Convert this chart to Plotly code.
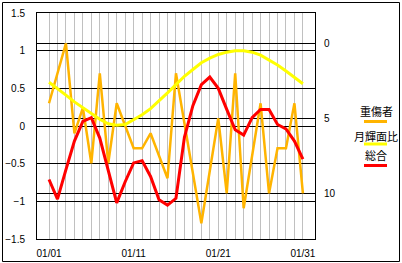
import plotly.graph_objects as go

# ---- data ----
dates = [f"01/{d:02d}" for d in range(1, 32)]
tick_labels = ["01/01", "01/11", "01/21", "01/31"]

serious_injuries = [4, 2, 0, 6, 4.3, 8, 2, 8, 4, 5.5, 7, 7, 6, 7.5, 9, 2, 5.3, 8.7,
                    12, 8.5, 5, 10, 2, 11, 7.5, 4, 10, 7, 7, 4, 10]
moon_ratio = [0.58, 0.50, 0.41, 0.32, 0.24, 0.16, 0.09, 0.03, 0.01, 0.02, 0.08, 0.15,
              0.23, 0.33, 0.44, 0.55, 0.66, 0.75, 0.84, 0.90, 0.95, 0.98, 1.0, 1.0,
              0.98, 0.94, 0.88, 0.81, 0.73, 0.65, 0.56]
total = [-0.71, -0.97, -0.58, -0.20, 0.06, 0.11, -0.16, -0.58, -1.02, -0.74, -0.49,
         -0.46, -0.67, -0.98, -1.05, -0.96, -0.15, 0.27, 0.55, 0.65, 0.50, 0.22, -0.05,
         -0.12, 0.11, 0.22, 0.22, 0.02, -0.04, -0.20, -0.44]

names = ["重傷者", "月輝面比", "総合"]
colors = ["#FFB400", "#FFFF00", "#FF0000"]

# ---- geometry (pixels) ----
W, H = 402, 263
L, R, T, B = 37, 315, 13, 239
pw, ph = R - L, B - T


def px_x(x):
    return (x - L) / pw


def px_y(y):
    return (B - y) / ph


fig = go.Figure()
fig.add_trace(go.Scatter(x=dates, y=serious_injuries, yaxis="y", mode="lines",
                         line=dict(color=colors[0], width=2.5), name=names[0]))
fig.add_trace(go.Scatter(x=dates, y=moon_ratio, yaxis="y2", mode="lines",
                         line=dict(color=colors[1], width=3), name=names[1]))
fig.add_trace(go.Scatter(x=dates, y=total, yaxis="y2", mode="lines",
                         line=dict(color=colors[2], width=3), name=names[2]))

font = dict(family="Liberation Sans, Arial, sans-serif", size=10, color="black")

shapes = [dict(type="rect", xref="paper", yref="paper",
               x0=px_x(2.5), x1=px_x(399.5), y0=px_y(261.5), y1=px_y(2.5),
               line=dict(color="black", width=1), layer="below")]
annotations = []
leg_text_y = [111, 135.5, 155]
leg_line_y = [121.5, 144, 165.5]
for nm, c, ty, ly in zip(names, colors, leg_text_y, leg_line_y):
    annotations.append(dict(xref="paper", yref="paper", x=px_x(376), y=px_y(ty),
                            text=nm, showarrow=False, xanchor="center", yanchor="middle",
                            font=dict(family="Noto Sans CJK JP", size=11, color="black")))
    shapes.append(dict(type="line", xref="paper", yref="paper",
                       x0=px_x(364), x1=px_x(387), y0=px_y(ly), y1=px_y(ly),
                       line=dict(color=c, width=3)))

fig.update_layout(
    width=W, height=H,
    margin=dict(l=L, r=W - R, t=T, b=H - B, pad=0, autoexpand=False),
    paper_bgcolor="white", plot_bgcolor="white",
    showlegend=False,
    font=font,
    xaxis=dict(type="category", categoryorder="array", categoryarray=dates,
               range=[-1.42, 31.43], automargin=False,
               tickvals=dates,
               ticktext=[d if d in tick_labels else "" for d in dates],
               showgrid=True, gridcolor="#C0C0C0", gridwidth=1,
               showline=True, linecolor="black", linewidth=1, mirror=True,
               ticks="", zeroline=False, ticklabelstandoff=5, tickfont=font),
    yaxis=dict(side="right", range=[13.05, -2.02], tickvals=[0, 5, 10],
               automargin=False,
               showgrid=True, gridcolor="black", gridwidth=1,
               showline=False, ticks="", zeroline=False,
               ticklabelstandoff=8, tickfont=font),
    yaxis2=dict(overlaying="y", side="left", range=[-1.5, 1.5], dtick=0.5,
                tick0=0, automargin=False,
                showgrid=True, gridcolor="black", gridwidth=1,
                showline=True, linecolor="black", linewidth=1, mirror=True,
                ticks="", zeroline=False, ticklabelstandoff=9, tickfont=font),
    shapes=shapes,
    annotations=annotations,
)

fig.write_html("out.html")
